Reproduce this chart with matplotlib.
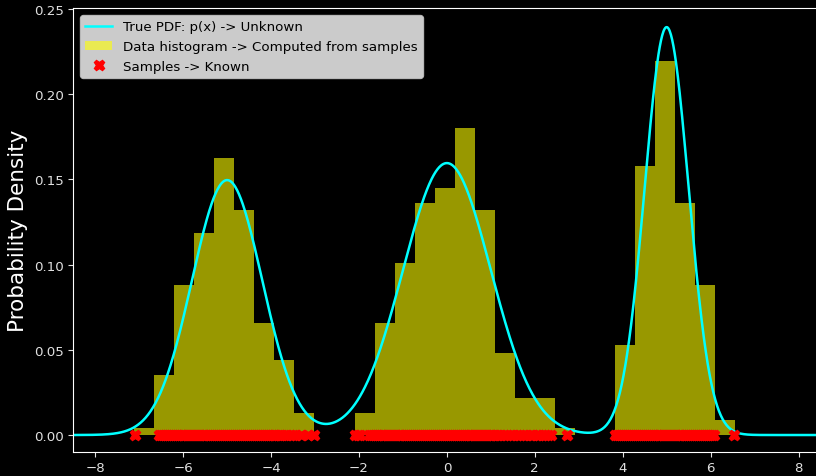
import numpy as np
import matplotlib
matplotlib.use("Agg")
import matplotlib.pyplot as plt

# mixture parameters of the true density
weights = [0.3, 0.4, 0.3]
means = [-5.0, 0.0, 5.0]
stds = [0.8, 1.0, 0.5]

# observed samples (left, middle and right clusters)
samples_left = [
    -7.10, -6.55, -6.51, -6.46, -6.42, -6.37, -6.33, -6.28, -6.24, -6.19,
    -6.15, -6.10, -6.06, -6.01, -5.97, -5.92, -5.88, -5.83, -5.79, -5.74,
    -5.70, -5.65, -5.61, -5.56, -5.52, -5.47, -5.43, -5.38, -5.34, -5.29,
    -5.25, -5.20, -5.16, -5.11, -5.07, -5.02, -4.98, -4.93, -4.89, -4.84,
    -4.80, -4.75, -4.71, -4.66, -4.62, -4.57, -4.53, -4.48, -4.44, -4.39,
    -4.35, -4.30, -4.26, -4.21, -4.17, -4.12, -4.08, -4.03, -3.99, -3.94,
    -3.90, -3.85, -3.80, -3.74, -3.66, -3.58, -3.51, -3.43, -3.31, -3.17,
    -3.03,
]
samples_mid = [
    -2.08, -2.03, -1.98, -1.78, -1.73, -1.69, -1.64, -1.60, -1.55, -1.51,
    -1.46, -1.42, -1.37, -1.33, -1.28, -1.24, -1.19, -1.15, -1.10, -1.06,
    -1.01, -0.97, -0.92, -0.88, -0.83, -0.79, -0.74, -0.70, -0.65, -0.61,
    -0.56, -0.52, -0.47, -0.43, -0.38, -0.34, -0.29, -0.25, -0.20, -0.16,
    -0.11, -0.07, -0.02, 0.02, 0.07, 0.11, 0.16, 0.20, 0.25, 0.29,
    0.34, 0.38, 0.43, 0.47, 0.52, 0.56, 0.61, 0.65, 0.70, 0.74,
    0.79, 0.83, 0.88, 0.92, 0.97, 1.01, 1.06, 1.10, 1.15, 1.21,
    1.29, 1.36, 1.43, 1.51, 1.59, 1.66, 1.73, 1.80, 1.88, 1.96,
    2.04, 2.10, 2.16, 2.23, 2.29, 2.36, 2.74,
]
samples_right = [
    3.83, 3.87, 3.92, 3.96, 4.01, 4.05, 4.10, 4.14, 4.19, 4.23,
    4.28, 4.32, 4.37, 4.41, 4.46, 4.50, 4.55, 4.59, 4.64, 4.68,
    4.73, 4.77, 4.82, 4.86, 4.91, 4.95, 5.00, 5.04, 5.09, 5.13,
    5.18, 5.22, 5.27, 5.31, 5.36, 5.40, 5.45, 5.49, 5.54, 5.58,
    5.63, 5.67, 5.72, 5.76, 5.81, 5.85, 5.90, 5.94, 5.99, 6.03,
    6.08, 6.53,
]

# histogram of the 500 samples: 30 bins between min and max
hist_lo, hist_hi = -7.11, 6.55
bin_counts = [1, 8, 20, 27, 37, 30, 15, 10, 3, 0,
              0, 3, 15, 23, 31, 33, 41, 30, 11, 5,
              5, 1, 0, 0, 12, 36, 50, 31, 20, 2]

plt.style.use("dark_background")
fig = plt.figure(figsize=(8.16, 4.77), dpi=100)
ax = fig.add_axes([0.0898, 0.0509, 0.9157, 0.9292])

edges = np.linspace(hist_lo, hist_hi, len(bin_counts) + 1)
centers = (edges[:-1] + edges[1:]) / 2
ax.hist(centers, bins=edges, weights=bin_counts, density=True,
        color="yellow", alpha=0.6, label="Data histogram -> Computed from samples")

x = np.linspace(-8.5, 8.5, 1200)
pdf = np.zeros_like(x)
for w, m, s in zip(weights, means, stds):
    pdf += w * np.exp(-0.5 * ((x - m) / s) ** 2) / (s * np.sqrt(2 * np.pi))
ax.plot(x, pdf, color="cyan", lw=1.8, label="True PDF: p(x) -> Unknown")

samples = samples_left + samples_mid + samples_right
ax.plot(samples, np.zeros(len(samples)), "X", color="red", ms=7.5,
        label="Samples -> Known")

ax.set_xlim(-8.5, 8.5)
ax.set_ylim(-0.0098, 0.2503)
ax.set_xticks(np.arange(-8, 9, 2))
ax.set_yticks(np.arange(0, 0.26, 0.05))
ax.tick_params(labelsize=9.6, colors="#e0e0e0")
ax.set_ylabel("Probability Density", fontsize=15.5)

h, l = ax.get_legend_handles_labels()
order = [1, 0, 2]
ax.legend([h[i] for i in order], [l[i] for i in order], loc="upper left",
          fontsize=9.6, facecolor="white", framealpha=0.8, labelcolor="black")

fig.savefig("out.png", dpi=100)
